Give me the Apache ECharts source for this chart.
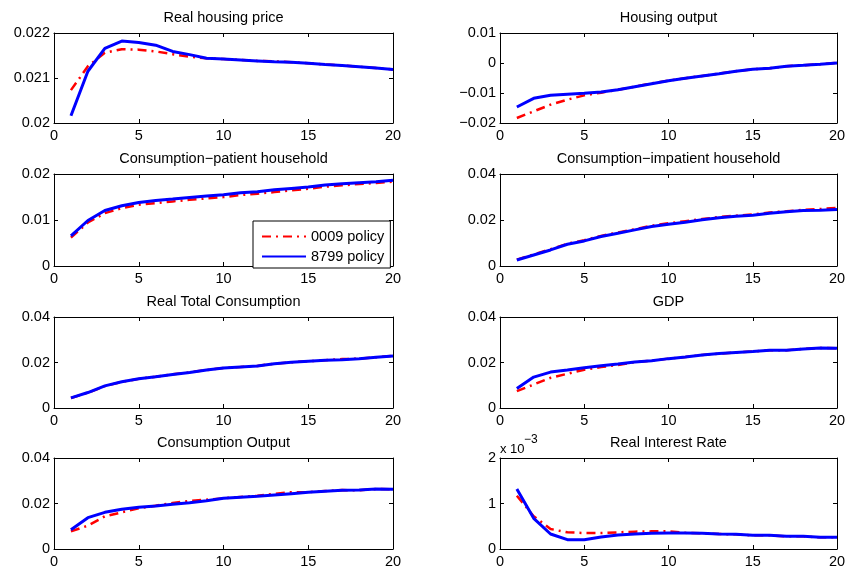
<!DOCTYPE html>
<html>
<head>
<meta charset="utf-8">
<script src="https://cdn.jsdelivr.net/npm/echarts@6/dist/echarts.min.js"></script>
<style>
  html, body { margin: 0; padding: 0; background: #fff; }
  #chart { width: 851px; height: 573px; }
</style>
</head>
<body>
<div id="chart"></div>
<script>
// Quarters after the shock
const periods = [1, 2, 3, 4, 5, 6, 7, 8, 9, 10, 11, 12, 13, 14, 15, 16, 17, 18, 19, 20];

const panelTitles = [
  'Real housing price', 'Housing output',
  'Consumption\u2212patient household', 'Consumption\u2212impatient household',
  'Real Total Consumption', 'GDP',
  'Consumption Output', 'Real Interest Rate'
];

const seriesNames = ['0009 policy', '8799 policy'];

// y-axis ranges per panel
const yMin = [0.020, -0.02, 0, 0, 0, 0, 0, 0];
const yMax = [0.022, 0.01, 0.02, 0.04, 0.04, 0.04, 0.04, 0.002];
const yStep = [0.001, 0.01, 0.01, 0.02, 0.02, 0.02, 0.02, 0.001];

// Impulse responses: 0009 policy / 8799 policy
const housingPrice0009 = [0.02073, 0.02126, 0.02156, 0.02164, 0.02163, 0.02159, 0.02153, 0.02147, 0.02144, 0.02142, 0.02140, 0.02138, 0.02137, 0.02135, 0.02133, 0.02130, 0.02128, 0.02125, 0.02122, 0.02119];
const housingPrice8799 = [0.02016, 0.02115, 0.02166, 0.02182, 0.02179, 0.02173, 0.02159, 0.02152, 0.02144, 0.02142, 0.02140, 0.02138, 0.02136, 0.02135, 0.02133, 0.02130, 0.02128, 0.02125, 0.02122, 0.02119];

const housingOutput0009 = [-0.01833, -0.01611, -0.01389, -0.01222, -0.01078, -0.00989, -0.00895, -0.00789, -0.00680, -0.00585, -0.00508, -0.00430, -0.00352, -0.00275, -0.00208, -0.00175, -0.00108, -0.00075, -0.00040, 0.00003];
const housingOutput8799 = [-0.01467, -0.01178, -0.01078, -0.01044, -0.01011, -0.00967, -0.00889, -0.00789, -0.00689, -0.00589, -0.00511, -0.00433, -0.00356, -0.00278, -0.00211, -0.00178, -0.00111, -0.00078, -0.00044, 0.00000];

const consPatient0009 = [0.00618, 0.00945, 0.01149, 0.01258, 0.01331, 0.01367, 0.01404, 0.01440, 0.01469, 0.01498, 0.01542, 0.01571, 0.01607, 0.01644, 0.01680, 0.01724, 0.01753, 0.01782, 0.01804, 0.01833];
const consPatient8799 = [0.00655, 0.00989, 0.01207, 0.01309, 0.01382, 0.01425, 0.01455, 0.01491, 0.01520, 0.01549, 0.01593, 0.01615, 0.01658, 0.01687, 0.01716, 0.01760, 0.01789, 0.01811, 0.01833, 0.01862];

const consImpatient0009 = [0.00275, 0.00500, 0.00730, 0.00970, 0.01120, 0.01310, 0.01460, 0.01600, 0.01750, 0.01860, 0.01950, 0.02040, 0.02130, 0.02190, 0.02240, 0.02330, 0.02380, 0.02440, 0.02480, 0.02520];
const consImpatient8799 = [0.00262, 0.00480, 0.00698, 0.00945, 0.01091, 0.01280, 0.01425, 0.01571, 0.01716, 0.01818, 0.01905, 0.02007, 0.02095, 0.02167, 0.02211, 0.02298, 0.02356, 0.02415, 0.02429, 0.02458];

const totalCons0009 = [0.00440, 0.00670, 0.00960, 0.01150, 0.01280, 0.01375, 0.01478, 0.01567, 0.01670, 0.01758, 0.01800, 0.01850, 0.01950, 0.02010, 0.02055, 0.02100, 0.02150, 0.02170, 0.02230, 0.02290];
const totalCons8799 = [0.00443, 0.00679, 0.00974, 0.01151, 0.01284, 0.01373, 0.01476, 0.01565, 0.01668, 0.01756, 0.01801, 0.01845, 0.01948, 0.02007, 0.02052, 0.02096, 0.02125, 0.02170, 0.02229, 0.02288];

const gdp0009 = [0.00738, 0.01033, 0.01328, 0.01506, 0.01683, 0.01801, 0.01889, 0.02022, 0.02081, 0.02170, 0.02244, 0.02332, 0.02391, 0.02440, 0.02480, 0.02539, 0.02539, 0.02598, 0.02642, 0.02627];
const gdp8799 = [0.00856, 0.01358, 0.01579, 0.01668, 0.01771, 0.01860, 0.01934, 0.02022, 0.02081, 0.02170, 0.02244, 0.02332, 0.02391, 0.02435, 0.02480, 0.02539, 0.02539, 0.02598, 0.02642, 0.02627];

const consOutput0009 = [0.00777, 0.01026, 0.01436, 0.01612, 0.01788, 0.01905, 0.02022, 0.02110, 0.02168, 0.02227, 0.02290, 0.02340, 0.02420, 0.02500, 0.02500, 0.02550, 0.02590, 0.02580, 0.02640, 0.02620];
const consOutput8799 = [0.00850, 0.01377, 0.01612, 0.01744, 0.01832, 0.01890, 0.01963, 0.02037, 0.02125, 0.02227, 0.02271, 0.02315, 0.02374, 0.02432, 0.02491, 0.02535, 0.02579, 0.02593, 0.02637, 0.02623];

const interestRate0009 = [0.001172, 0.000718, 0.000440, 0.000366, 0.000352, 0.000352, 0.000366, 0.000381, 0.000388, 0.000388, 0.000355, 0.000344, 0.000330, 0.000322, 0.000300, 0.000300, 0.000278, 0.000278, 0.000256, 0.000256];
const interestRate8799 = [0.001319, 0.000674, 0.000330, 0.000205, 0.000205, 0.000264, 0.000308, 0.000330, 0.000344, 0.000352, 0.000352, 0.000344, 0.000330, 0.000322, 0.000300, 0.000300, 0.000278, 0.000278, 0.000256, 0.000256];

const panelData = [
  [housingPrice0009, housingPrice8799],
  [housingOutput0009, housingOutput8799],
  [consPatient0009, consPatient8799],
  [consImpatient0009, consImpatient8799],
  [totalCons0009, totalCons8799],
  [gdp0009, gdp8799],
  [consOutput0009, consOutput8799],
  [interestRate0009, interestRate8799]
];

// Layout of the 4x2 subplot grid (pixels)
const colLeft = [54, 500];
const colRight = [393, 837];
const rowTop = [33, 174, 317, 458];
const rowBottom = [123, 266, 408, 549];

const FONT = '"Liberation Sans", Arial, Helvetica, sans-serif';
const FS = 14.5;

function fmtTick(v, scale) {
  const s = String(+(v * scale).toFixed(6));
  return s.replace('-', '\u2212');
}

const grid = [], xAxis = [], yAxis = [], series = [], graphic = [];

for (let i = 0; i < 8; i++) {
  const col = i % 2, row = Math.floor(i / 2);
  const left = colLeft[col], top = rowTop[row];
  const width = colRight[col] - colLeft[col];
  const height = rowBottom[row] - rowTop[row];
  grid.push({ left: left, top: top, width: width, height: height, containLabel: false });

  const lineCommon = { onZero: false, lineStyle: { color: '#000', width: 1 } };
  const tickCommon = { inside: true, length: 4, lineStyle: { color: '#000', width: 1 } };
  const labelCommon = { color: '#000', fontSize: FS, fontFamily: FONT };

  ['bottom', 'top'].forEach(function (pos) {
    xAxis.push({
      gridIndex: i, type: 'value', position: pos, min: 0, max: 20, interval: 5,
      axisLine: lineCommon, axisTick: tickCommon,
      axisLabel: Object.assign({ show: pos === 'bottom', margin: 5 }, labelCommon),
      splitLine: { show: false }
    });
  });
  const scale = i === 7 ? 1000 : 1;
  ['left', 'right'].forEach(function (pos) {
    yAxis.push({
      gridIndex: i, type: 'value', position: pos,
      min: yMin[i], max: yMax[i], interval: yStep[i],
      axisLine: Object.assign({ show: true }, lineCommon), axisTick: tickCommon,
      axisLabel: Object.assign({ show: pos === 'left', margin: 4,
        formatter: function (v) { return fmtTick(v, scale); } }, labelCommon),
      splitLine: { show: false }
    });
  });

  const styles = [
    { color: '#ff0000', width: 2.5, type: [9, 5, 2, 5] },
    { color: '#0000ff', width: 3, type: 'solid' }
  ];
  panelData[i].forEach(function (vals, k) {
    series.push({
      type: 'line', name: seriesNames[k],
      xAxisIndex: 2 * i, yAxisIndex: 2 * i,
      data: periods.map(function (p, j) { return [p, vals[j]]; }),
      symbol: 'none', showSymbol: false, silent: true,
      lineStyle: styles[k], itemStyle: { color: styles[k].color },
      emphasis: { disabled: true }, z: 2 + k
    });
  });

  graphic.push({
    type: 'text', x: (colLeft[col] + colRight[col]) / 2, y: rowTop[row] - 15,
    style: { text: panelTitles[i], align: 'center', verticalAlign: 'middle',
      fill: '#000', font: 'normal ' + FS + 'px ' + FONT }
  });
}

// exponent label for the interest-rate panel
graphic.push({
  type: 'text', x: 500, y: 449,
  style: { text: 'x 10', align: 'left', verticalAlign: 'middle', fill: '#000', font: 'normal 13px ' + FONT }
});
graphic.push({
  type: 'text', x: 524, y: 440,
  style: { text: '\u22123', align: 'left', verticalAlign: 'middle', fill: '#000', font: 'normal 12px ' + FONT }
});

const chart = echarts.init(document.getElementById('chart'));
chart.setOption({
  animation: false,
  backgroundColor: '#fff',
  grid: grid,
  xAxis: xAxis,
  yAxis: yAxis,
  series: series,
  graphic: graphic,
  legend: {
    data: seriesNames, orient: 'vertical', left: 253, top: 221,
    itemWidth: 44, itemHeight: 14, itemGap: 5, padding: [8, 6, 4, 8],
    borderColor: '#000', borderWidth: 1, borderRadius: 0, backgroundColor: '#fff',
    selectedMode: false, z: 10,
    itemStyle: { opacity: 0 },
    textStyle: { color: '#000', fontSize: FS, fontFamily: FONT }
  }
});
</script>
</body>
</html>
